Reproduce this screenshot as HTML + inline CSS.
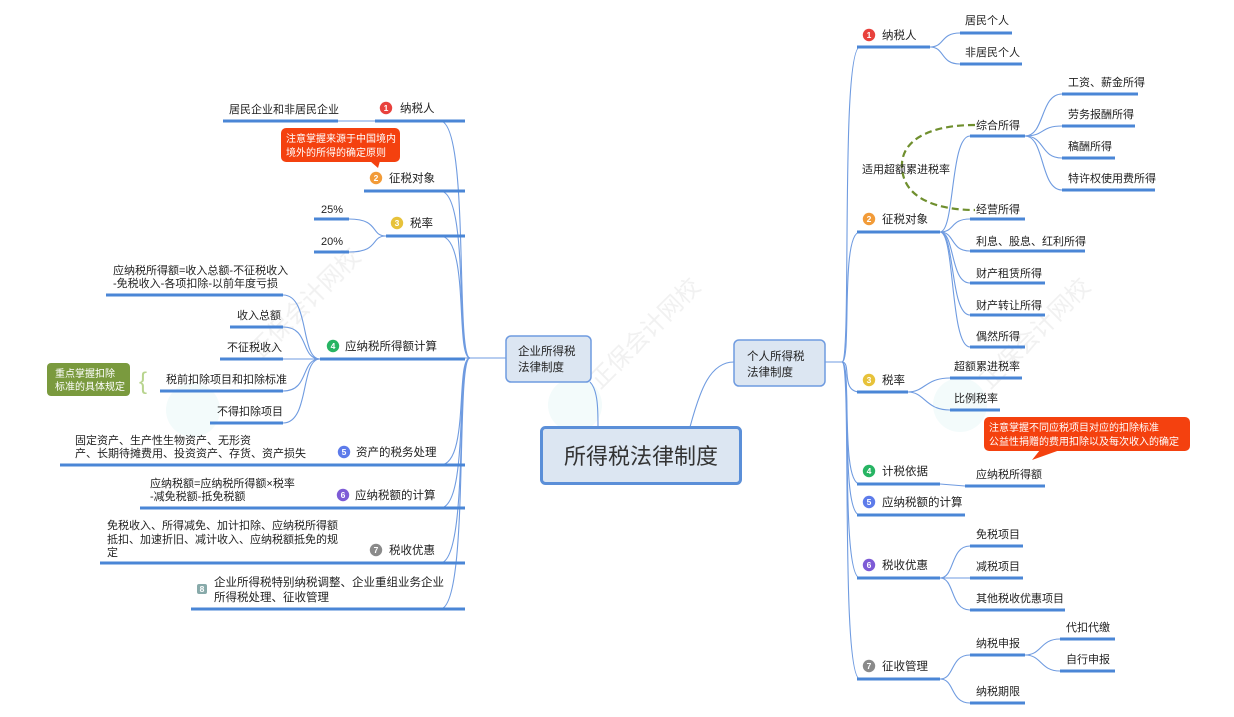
<!DOCTYPE html>
<html><head><meta charset="utf-8"><style>
html,body{margin:0;padding:0;background:#fff;}
svg{display:block;font-family:"Liberation Sans","Noto Sans CJK SC",sans-serif;}
.c{fill:none;stroke:#6f9be0;stroke-width:1.1}
.u{stroke:#4a86d6;stroke-width:3}
.t{font-size:11px;fill:#222}
.m{font-size:11.5px;fill:#222}
.b{font-size:8.5px;font-weight:bold;fill:#fff;text-anchor:middle}
</style></head><body>
<svg width="1234" height="717" viewBox="0 0 1234 717">
<g opacity="0.12" fill="#3aa" font-size="24">
<circle cx="193" cy="410" r="27" fill="#9dd"/>
<circle cx="575" cy="405" r="27" fill="#9dd"/>
<circle cx="960" cy="405" r="27" fill="#9dd"/>
<text x="260" y="360" transform="rotate(-45 260 360)" fill="#888">正保会计网校</text>
<text x="600" y="390" transform="rotate(-45 600 390)" fill="#888">正保会计网校</text>
<text x="990" y="390" transform="rotate(-45 990 390)" fill="#888">正保会计网校</text>
</g>

<g class="c">
<path d="M470 358 C455 358 470 121 440 121"/>
<path d="M470 358 C455 358 470 191 440 191"/>
<path d="M470 358 C455 358 470 236 440 236"/>
<path d="M470 358 L440 358"/>
<path d="M470 358 C455 358 470 465 440 465"/>
<path d="M470 358 C455 358 470 508 440 508"/>
<path d="M470 358 C455 358 470 563 440 563"/>
<path d="M470 358 C455 358 470 609 440 609"/>
<path d="M506 358 L470 358"/>
<path d="M590 382 C598 390 598 410 598 427"/>
<path d="M338 121 L375 121"/>
<path d="M386 236 C370 236 380 219 349 219"/>
<path d="M386 236 C370 236 380 252 349 252"/>
<path d="M320 359 C300 359 310 295 283 295"/>
<path d="M320 359 C300 359 310 327 283 327"/>
<path d="M320 359 L283 359"/>
<path d="M320 359 C300 359 310 391 283 391"/>
<path d="M320 359 C300 359 310 423 283 423"/>
<path d="M825 362 L842 362"/>
<path d="M690 427 C700 390 710 362 734 362"/>
<path d="M842 362 C852 362 840 47 860 47"/>
<path d="M842 362 C852 362 840 232 860 232"/>
<path d="M842 362 C852 362 840 392 860 392"/>
<path d="M842 362 C852 362 840 484 860 484"/>
<path d="M842 362 C852 362 840 515 860 515"/>
<path d="M842 362 C852 362 840 578 860 578"/>
<path d="M842 362 C852 362 840 679 860 679"/>
<path d="M930 47 C945 47 940 33 960 33"/>
<path d="M930 47 C945 47 940 64 960 64"/>
<path d="M940 232 C955 232 950 136 970 136"/>
<path d="M940 232 C955 232 950 219 970 219"/>
<path d="M940 232 C955 232 950 251 970 251"/>
<path d="M940 232 C955 232 950 283 970 283"/>
<path d="M940 232 C955 232 950 315 970 315"/>
<path d="M940 232 C955 232 950 347 970 347"/>
<path d="M1025 136 C1045 136 1040 94 1062 94"/>
<path d="M1025 136 C1045 136 1040 126 1062 126"/>
<path d="M1025 136 C1045 136 1040 158 1062 158"/>
<path d="M1025 136 C1045 136 1040 190 1062 190"/>
<path d="M908 392 C925 392 925 378 950 378"/>
<path d="M908 392 C925 392 925 410 950 410"/>
<path d="M940 484 L965 486"/>
<path d="M940 578 C955 578 950 546 970 546"/>
<path d="M940 578 L970 578"/>
<path d="M940 578 C955 578 950 610 970 610"/>
<path d="M940 679 C955 679 950 655 970 655"/>
<path d="M940 679 C955 679 950 703 970 703"/>
<path d="M1025 655 C1042 655 1040 639 1060 639"/>
<path d="M1025 655 C1042 655 1040 671 1060 671"/>
</g>
<path d="M975 125 C930 125 900 140 902 168 C904 200 940 210 975 210" fill="none" stroke="#6f8f2e" stroke-width="2.2" stroke-dasharray="7,4"/>

<g class="u">
<line x1="375" y1="121" x2="465" y2="121"/>
<line x1="364" y1="191" x2="465" y2="191"/>
<line x1="386" y1="236" x2="465" y2="236"/>
<line x1="320" y1="359" x2="465" y2="359"/>
<line x1="332" y1="465" x2="465" y2="465"/>
<line x1="330" y1="508" x2="465" y2="508"/>
<line x1="363" y1="563" x2="465" y2="563"/>
<line x1="191" y1="609" x2="465" y2="609"/>
<line x1="223" y1="121" x2="338" y2="121"/>
<line x1="314" y1="219" x2="349" y2="219"/>
<line x1="314" y1="252" x2="349" y2="252"/>
<line x1="106" y1="295" x2="283" y2="295"/>
<line x1="230" y1="327" x2="283" y2="327"/>
<line x1="220" y1="359" x2="283" y2="359"/>
<line x1="160" y1="391" x2="283" y2="391"/>
<line x1="210" y1="423" x2="283" y2="423"/>
<line x1="60" y1="465" x2="332" y2="465"/>
<line x1="140" y1="508" x2="330" y2="508"/>
<line x1="100" y1="563" x2="363" y2="563"/>
<line x1="857" y1="47" x2="930" y2="47"/>
<line x1="857" y1="232" x2="940" y2="232"/>
<line x1="857" y1="392" x2="908" y2="392"/>
<line x1="857" y1="484" x2="940" y2="484"/>
<line x1="857" y1="515" x2="965" y2="515"/>
<line x1="857" y1="578" x2="940" y2="578"/>
<line x1="857" y1="679" x2="940" y2="679"/>
<line x1="960" y1="33" x2="1012" y2="33"/>
<line x1="960" y1="64" x2="1022" y2="64"/>
<line x1="970" y1="136" x2="1025" y2="136"/>
<line x1="1062" y1="94" x2="1138" y2="94"/>
<line x1="1062" y1="126" x2="1135" y2="126"/>
<line x1="1062" y1="158" x2="1115" y2="158"/>
<line x1="1062" y1="190" x2="1155" y2="190"/>
<line x1="970" y1="219" x2="1025" y2="219"/>
<line x1="970" y1="251" x2="1085" y2="251"/>
<line x1="970" y1="283" x2="1045" y2="283"/>
<line x1="970" y1="315" x2="1045" y2="315"/>
<line x1="970" y1="347" x2="1025" y2="347"/>
<line x1="950" y1="378" x2="1022" y2="378"/>
<line x1="950" y1="410" x2="1000" y2="410"/>
<line x1="965" y1="486" x2="1045" y2="486"/>
<line x1="970" y1="546" x2="1023" y2="546"/>
<line x1="970" y1="578" x2="1023" y2="578"/>
<line x1="970" y1="610" x2="1065" y2="610"/>
<line x1="970" y1="655" x2="1025" y2="655"/>
<line x1="970" y1="703" x2="1025" y2="703"/>
<line x1="1060" y1="639" x2="1115" y2="639"/>
<line x1="1060" y1="671" x2="1115" y2="671"/>
</g>

<rect x="506" y="336" width="85" height="46" rx="5" fill="#dce6f2" stroke="#6f9be0" stroke-width="1.5"/>
<text class="m" x="518" y="355">企业所得税</text><text class="m" x="518" y="371">法律制度</text>
<rect x="734" y="340" width="91" height="46" rx="5" fill="#dce6f2" stroke="#6f9be0" stroke-width="1.5"/>
<text class="m" x="747" y="360">个人所得税</text><text class="m" x="747" y="376">法律制度</text>
<rect x="541.5" y="427.5" width="199" height="56" rx="4" fill="#dce6f2" stroke="#5b8fd8" stroke-width="3"/>
<text x="641" y="464" font-size="22" fill="#333" text-anchor="middle">所得税法律制度</text>

<rect x="281" y="128" width="119" height="34" rx="5" fill="#f4410f"/>
<path d="M370 161 L380 161 L378 168 Z" fill="#f4410f"/>
<text x="286" y="142" font-size="10" fill="#fff">注意掌握来源于中国境内</text>
<text x="286" y="156" font-size="10" fill="#fff">境外的所得的确定原则</text>
<rect x="984" y="417" width="206" height="34" rx="5" fill="#f4410f"/>
<path d="M1040 450 L1060 450 L1032 460 Z" fill="#f4410f"/>
<text x="989" y="431" font-size="10" fill="#fff">注意掌握不同应税项目对应的扣除标准</text>
<text x="989" y="445" font-size="10" fill="#fff">公益性捐赠的费用扣除以及每次收入的确定</text>
<rect x="47" y="363" width="83" height="33" rx="4" fill="#7a9a3e"/>
<text x="55" y="377" font-size="10" fill="#fff">重点掌握扣除</text>
<text x="55" y="390" font-size="10" fill="#fff">标准的具体规定</text>
<text x="139" y="389" font-size="24" fill="#b8d48e">{</text>

<g>
<circle cx="386" cy="108" r="6.2" fill="#e8413c"/><text class="b" x="386" y="111">1</text>
<circle cx="376" cy="178" r="6.2" fill="#f29b38"/><text class="b" x="376" y="181">2</text>
<circle cx="397" cy="223" r="6.2" fill="#e7c23a"/><text class="b" x="397" y="226">3</text>
<circle cx="333" cy="346" r="6.2" fill="#27b463"/><text class="b" x="333" y="349">4</text>
<circle cx="344" cy="452" r="6.2" fill="#5d7bea"/><text class="b" x="344" y="455">5</text>
<circle cx="343" cy="495" r="6.2" fill="#7d5bd6"/><text class="b" x="343" y="498">6</text>
<circle cx="376" cy="550" r="6.2" fill="#8a8a8a"/><text class="b" x="376" y="553">7</text>
<rect x="197" y="584" width="10" height="10" rx="2" fill="#8aa"/><text class="b" x="202" y="592">8</text>
<circle cx="869" cy="35" r="6.2" fill="#e8413c"/><text class="b" x="869" y="38">1</text>
<circle cx="869" cy="219" r="6.2" fill="#f29b38"/><text class="b" x="869" y="222">2</text>
<circle cx="869" cy="380" r="6.2" fill="#e7c23a"/><text class="b" x="869" y="383">3</text>
<circle cx="869" cy="471" r="6.2" fill="#27b463"/><text class="b" x="869" y="474">4</text>
<circle cx="869" cy="502" r="6.2" fill="#5d7bea"/><text class="b" x="869" y="505">5</text>
<circle cx="869" cy="565" r="6.2" fill="#7d5bd6"/><text class="b" x="869" y="568">6</text>
<circle cx="869" cy="666" r="6.2" fill="#8a8a8a"/><text class="b" x="869" y="669">7</text>
</g>

<g class="m">
<text x="400" y="112">纳税人</text>
<text x="389" y="182">征税对象</text>
<text x="410" y="227">税率</text>
<text x="345" y="350">应纳税所得额计算</text>
<text x="356" y="456">资产的税务处理</text>
<text x="355" y="499">应纳税额的计算</text>
<text x="389" y="554">税收优惠</text>
<text x="214" y="586">企业所得税特别纳税调整、企业重组业务企业</text>
<text x="214" y="601">所得税处理、征收管理</text>
</g>
<g class="t">
<text x="229" y="113">居民企业和非居民企业</text>
<text x="321" y="213">25%</text>
<text x="321" y="245">20%</text>
<text x="113" y="274">应纳税所得额=收入总额-不征税收入</text>
<text x="113" y="287">-免税收入-各项扣除-以前年度亏损</text>
<text x="237" y="319">收入总额</text>
<text x="227" y="351">不征税收入</text>
<text x="166" y="383">税前扣除项目和扣除标准</text>
<text x="217" y="415">不得扣除项目</text>
<text x="75" y="444">固定资产、生产性生物资产、无形资</text>
<text x="75" y="457">产、长期待摊费用、投资资产、存货、资产损失</text>
<text x="150" y="487">应纳税额=应纳税所得额×税率</text>
<text x="150" y="500">-减免税额-抵免税额</text>
<text x="107" y="529">免税收入、所得减免、加计扣除、应纳税所得额</text>
<text x="107" y="543">抵扣、加速折旧、减计收入、应纳税额抵免的规</text>
<text x="107" y="556">定</text>
</g>

<g class="m">
<text x="882" y="39">纳税人</text>
<text x="882" y="223">征税对象</text>
<text x="882" y="384">税率</text>
<text x="882" y="475">计税依据</text>
<text x="882" y="506">应纳税额的计算</text>
<text x="882" y="569">税收优惠</text>
<text x="882" y="670">征收管理</text>
</g>
<g class="t">
<text x="965" y="24">居民个人</text>
<text x="965" y="56">非居民个人</text>
<text x="976" y="129">综合所得</text>
<text x="862" y="173">适用超额累进税率</text>
<text x="1068" y="86">工资、薪金所得</text>
<text x="1068" y="118">劳务报酬所得</text>
<text x="1068" y="150">稿酬所得</text>
<text x="1068" y="182">特许权使用费所得</text>
<text x="976" y="213">经营所得</text>
<text x="976" y="245">利息、股息、红利所得</text>
<text x="976" y="277">财产租赁所得</text>
<text x="976" y="309">财产转让所得</text>
<text x="976" y="340">偶然所得</text>
<text x="954" y="370">超额累进税率</text>
<text x="954" y="402">比例税率</text>
<text x="976" y="478">应纳税所得额</text>
<text x="976" y="538">免税项目</text>
<text x="976" y="570">减税项目</text>
<text x="976" y="602">其他税收优惠项目</text>
<text x="976" y="647">纳税申报</text>
<text x="976" y="695">纳税期限</text>
<text x="1066" y="631">代扣代缴</text>
<text x="1066" y="663">自行申报</text>
</g>
</svg>
</body></html>
